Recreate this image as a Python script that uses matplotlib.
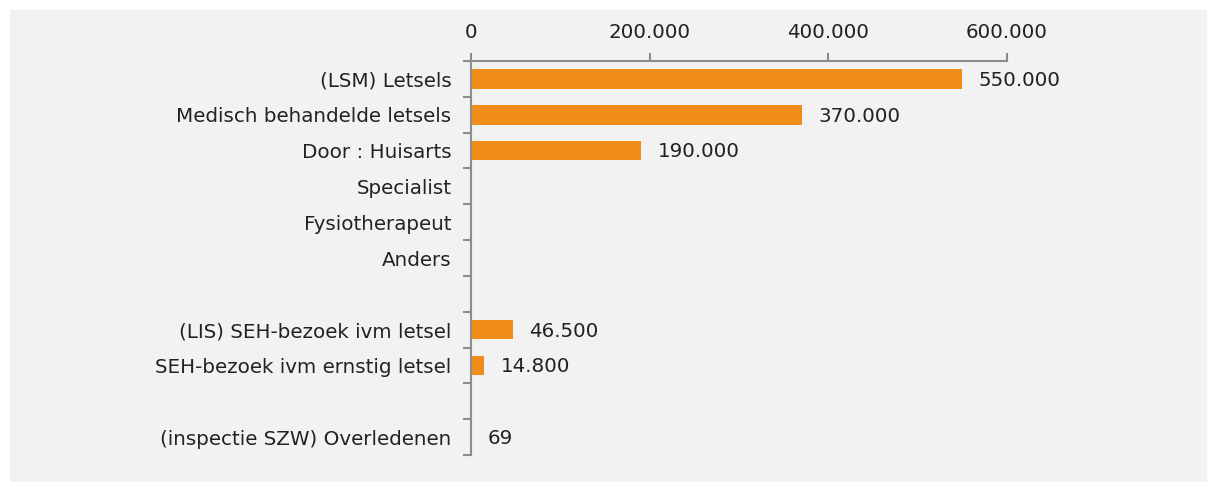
import numpy as np
import matplotlib.pyplot as plt
from matplotlib.patches import Rectangle

# categories top to bottom, empty strings are spacer rows
categories = [
    "(LSM) Letsels",
    "Medisch behandelde letsels",
    "Door : Huisarts",
    "Specialist",
    "Fysiotherapeut",
    "Anders",
    "",
    "(LIS) SEH-bezoek ivm letsel",
    "SEH-bezoek ivm ernstig letsel",
    "",
    "(inspectie SZW) Overledenen",
]
values = [550000, 370000, 190000, None, None, None, None, 46500, 14800, None, 69]
x_ticks = [0, 200000, 400000, 600000]

bar_color = "#f08c1a"
spine_color = "#8c8c8c"
text_color = "#222222"
font = "DejaVu Sans"
fs = 14.3


def fmt(v):
    return f"{v:,.0f}".replace(",", ".")


fig = plt.figure(figsize=(12.07, 4.82), dpi=100)
fig.patch.set_facecolor("white")
fig.add_artist(Rectangle((10 / 1207, 0), 1 - 10 / 1207, 1 - 10 / 482,
                         transform=fig.transFigure, facecolor="#f2f2f2",
                         edgecolor="none", zorder=-10))

ax = fig.add_axes([471 / 1207, 1 - 455 / 482, 536 / 1207, 394 / 482])
ax.set_facecolor("none")
ax.set_zorder(1)

n = len(categories)
y = np.arange(n)
for i, v in enumerate(values):
    if v is None:
        continue
    ax.barh(y[i], v, height=0.55, color=bar_color, zorder=2)
    ax.annotate(fmt(v), (v, y[i]), xytext=(12, -1), textcoords="offset points",
                va="center", ha="left", fontsize=fs, color=text_color,
                family=font)

ax.set_xlim(0, 600000)
ax.set_ylim(n - 0.5, -0.5)

# category labels centred on rows, ticks on row boundaries
ax.set_yticks(y)
ax.set_yticklabels(categories, fontsize=fs, color=text_color, family=font)
ax.tick_params(axis="y", which="major", length=0, pad=14)
ax.set_yticks(np.arange(n + 1) - 0.5, minor=True)
ax.tick_params(axis="y", which="minor", length=6, width=1.5, color=spine_color)

ax.xaxis.tick_top()
ax.set_xticks(x_ticks)
ax.set_xticklabels([fmt(t) for t in x_ticks], fontsize=fs, color=text_color,
                   family=font)
ax.tick_params(axis="x", length=6, width=1.5, color=spine_color, pad=8)

for side in ["right", "bottom"]:
    ax.spines[side].set_visible(False)
for side in ["left", "top"]:
    ax.spines[side].set_color(spine_color)
    ax.spines[side].set_linewidth(1.5)

fig.savefig("out.png", dpi=100)
